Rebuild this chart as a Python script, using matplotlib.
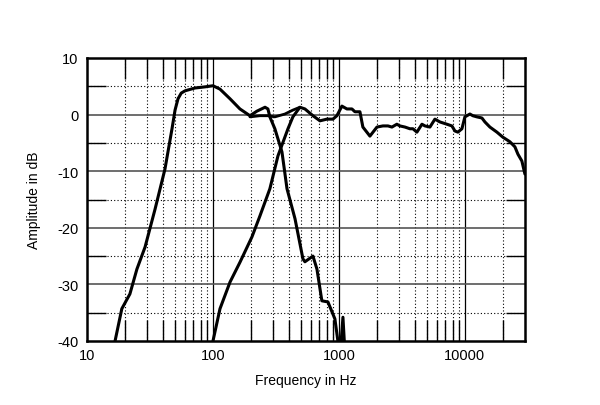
import matplotlib
matplotlib.use("Agg")
import matplotlib.pyplot as plt
from matplotlib.ticker import FixedLocator, NullFormatter
import numpy as np

plt.rcParams['font.family'] = ['Liberation Sans', 'DejaVu Sans']

# Woofer response
woofer_hz = [16.7, 18.9, 21.9, 24.9, 28.9, 34.7, 41.6, 47.3, 50.0, 52.8, 56.0, 60.0, 72.0, 86.4, 100,
             113.7, 136.5, 163.7, 196.6, 223, 259, 273, 283, 310, 353, 387, 448, 518, 537,
             622, 669, 732, 818, 929, 981, 1019, 1076, 1116]
woofer_db = [-40, -34.3, -31.7, -27.3, -23.4, -16.7, -9.6, -2.5, 0.8, 2.8, 3.8, 4.2, 4.7, 4.9, 5.1,
             4.5, 2.8, 1.0, -0.2, 0.6, 1.3, 1.0, -0.4, -2.5, -6.6, -13.1, -18.4, -25.5, -26.0,
             -25.0, -27.3, -32.9, -33.1, -36.1, -40, -43, -35.8, -42]

# Midrange / tweeter response
mid_hz = [100, 113.7, 136.5, 163.7, 204, 236, 283, 328, 394, 431, 490, 537, 622, 707, 803,
          896, 963, 1056, 1157, 1268, 1340, 1468, 1549, 1762, 2004, 2235, 2449, 2635, 2884,
          3048, 3342, 3659, 3866, 4159, 4560, 4818, 5277, 5781, 6334, 7197, 7885, 8337,
          8798, 9471, 10000, 10960, 11570, 12450, 13650, 14420, 15790, 17950, 20040,
          22770, 24950, 26370, 28330, 29950]
mid_db = [-40, -34.3, -29.6, -26.1, -21.6, -17.9, -13.1, -7.3, -2.5, -0.4, 1.3, 1.0, -0.2,
          -1.1, -0.8, -0.8, -0.2, 1.5, 1.0, 1.0, 0.5, 0.5, -2.2, -3.8, -2.2, -2.0, -2.0,
          -2.2, -1.7, -2.0, -2.2, -2.5, -2.5, -3.1, -1.7, -2.0, -2.2, -0.8, -1.3, -1.7,
          -2.0, -2.9, -3.1, -2.5, -0.4, 0.1, -0.2, -0.4, -0.6, -1.3, -2.2, -3.1, -4.0,
          -4.8, -5.7, -7.0, -8.2, -10.5]

# Summed response through the crossover region
sum_hz = [196.6, 236, 273, 310, 372, 431, 490]
sum_db = [-0.4, -0.2, -0.2, -0.4, 0.1, 0.8, 1.3]

x_ticks = [10, 100, 1000, 10000]
x_labels = ['10', '100', '1000', '10000']
y_ticks = [10, 0, -10, -20, -30, -40]
y_labels = ['10', '0', '-10', '-20', '-30', '-40']

fig = plt.figure(figsize=(6.0, 4.06), dpi=100)
ax = fig.add_axes([87/600, 1-342/406, 438/600, 283/406])
ax.set_xscale('log')
ax.set_xlim(10, 30000)
ax.set_ylim(-40, 10)

# minor grid (dotted)
minor_x = [m * d for d in (10, 100, 1000, 10000) for m in range(2, 10) if m * d < 30000]
for xv in minor_x:
    ax.axvline(xv, color='black', lw=0.8, ls=(0, (1, 2)), zorder=1)
for yv in (5, -5, -15, -25, -35):
    ax.axhline(yv, color='black', lw=0.8, ls=(0, (1, 2)), zorder=1)
# major grid (solid)
for xv in (100, 1000, 10000):
    ax.axvline(xv, color='black', lw=0.9, zorder=1)
for yv in (0, -10, -20, -30):
    ax.axhline(yv, color='#555555', lw=1.2, zorder=1)

kw = dict(color='black', zorder=3, solid_joinstyle='round', solid_capstyle='round')
ax.plot(woofer_hz, woofer_db, lw=2.2, **kw)
ax.plot(mid_hz, mid_db, lw=2.2, **kw)
ax.plot(sum_hz, sum_db, lw=2.0, **kw)

ax.xaxis.set_major_locator(FixedLocator(x_ticks))
ax.set_xticklabels(x_labels)
ax.xaxis.set_minor_locator(FixedLocator(minor_x))
ax.xaxis.set_minor_formatter(NullFormatter())
ax.yaxis.set_major_locator(FixedLocator(y_ticks))
ax.set_yticklabels(y_labels)
ax.yaxis.set_minor_locator(FixedLocator([5, -5, -15, -25, -35]))

ax.tick_params(axis='x', which='major', length=0, labelsize=10.5, pad=5)
ax.tick_params(axis='y', which='major', length=0, labelsize=10.5, pad=6)
ax.tick_params(axis='x', which='minor', direction='in', length=15, width=1.0,
               top=True, bottom=True)
ax.tick_params(axis='y', which='minor', direction='in', length=14, width=1.0,
               left=True, right=True)

for s in ax.spines.values():
    s.set_linewidth(1.8)
    s.set_zorder(4)

ax.set_xlabel('Frequency in Hz', fontsize=10, labelpad=8)
ax.set_ylabel('Amplitude in dB', fontsize=10, labelpad=12)

fig.savefig('out.png', dpi=100)
